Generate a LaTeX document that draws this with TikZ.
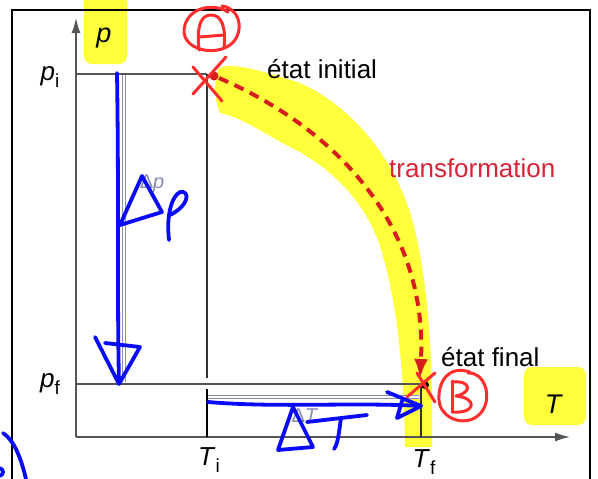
\documentclass[tikz,border=0pt]{standalone}
\usepackage{fontspec}
\setmainfont{Liberation Sans}
\usetikzlibrary{arrows.meta}
\definecolor{hlyellow}{RGB}{255,255,60}
\definecolor{penblue}{RGB}{10,10,250}
\definecolor{penred}{RGB}{255,45,45}
\definecolor{curvered}{RGB}{215,30,30}
\definecolor{labelred}{RGB}{215,35,55}
\definecolor{arrowgray}{RGB}{135,140,180}
\definecolor{axisgray}{RGB}{85,85,85}
\newcommand{\lowidx}[1]{\raisebox{-0.3em}{\fontsize{19}{20}\selectfont #1}}

\begin{document}
\begin{tikzpicture}[x=1pt,y=-1pt]
\tikzset{
  lbl/.style={inner sep=0pt,font=\fontsize{26}{30}\selectfont},
  redlbl/.style={lbl,text=labelred},
  faintlbl/.style={inner sep=0pt,text=arrowgray,font=\fontsize{20}{22}\selectfont},
  axis/.style={draw=axisgray,line width=1.5pt,-{Latex[length=15pt,width=9pt]}},
  guide/.style={draw=axisgray,line width=1.2pt},
  tick/.style={draw=black,line width=2.6pt},
  hollow/.style={draw=arrowgray,line width=0.7pt,double=white,double distance=2pt},
  path/.style={draw=curvered,line width=4pt,dash pattern=on 10pt off 7pt,
    -{Latex[length=20pt,width=14pt]}},
  pen/.style={draw=penblue,line width=3.8pt,line cap=round,line join=round},
  redpen/.style={draw=penred,line width=3pt,line cap=round,line join=round}
}
\useasboundingbox (0,0) rectangle (598,479);
% highlighter
\fill[hlyellow,rounded corners=8pt] (84,-5) rectangle (127,64);
\fill[hlyellow,rounded corners=8pt] (524,367) rectangle (586,425);
\fill[hlyellow] (218,70) .. controls (224,60) and (260,70) .. (300,83)
  .. controls (350,105) and (400,160) .. (416,235)
  .. controls (428,290) and (433,350) .. (432,447) -- (405,447)
  .. controls (404,360) and (395,290) .. (378,240)
  .. controls (360,195) and (330,170) .. (300,152)
  .. controls (270,138) and (245,118) .. (220,113)
  .. controls (214,100) and (214,80) .. cycle;
% frame
\draw[line width=2.5pt] (12,485) -- (12,10) -- (590,10) -- (590,485);
% axes
\coordinate (O) at (76,437);
\coordinate (ytip) at (76,18);
\coordinate (xtip) at (570,437);
\draw[axis] (O) -- (ytip);
\draw[axis] (O) -- (xtip);
\coordinate (pi_ax) at (76,74);
\coordinate (pf_ax) at (76,384);
\coordinate (Ti_ax) at (207,437);
\coordinate (Tf_ax) at (421,437);
\coordinate (stA) at (207,74);
\coordinate (stB) at (421,384);
\coordinate (Ti_gap) at (207,378);
\coordinate (Ti_low) at (207,389);
\draw[guide] (pi_ax) -- (stA);
\draw[guide] (pf_ax) -- (stB);
\draw[guide,draw=black!80] (stA) -- (Ti_gap);
\draw[tick] (Ti_low) -- (Ti_ax);
\draw[guide,draw=black!80] (stB) -- (Tf_ax);
% printed delta arrows
\coordinate (dp_top) at (124,75);
\coordinate (dp_bot) at (124,382);
\coordinate (dT_l) at (208,397);
\coordinate (dT_r) at (419,397);
\draw[hollow] (dp_top) -- (dp_bot);
\draw[hollow] (dT_l) -- (dT_r);
\node[faintlbl] (lbl_dp) at (152,184) {Δ\textit{p}};
\node[faintlbl] (lbl_dT) at (305,416) {Δ\textit{T}};
% labels
\node[lbl,font=\fontsize{27}{30}\selectfont] (lbl_p) at (104,38) {\textit{p}};
\node[lbl,font=\fontsize{27}{30}\selectfont] (lbl_T) at (554,404) {\textit{T}};
\node[lbl] (lbl_pi) at (50,77) {\textit{p}\lowidx{i}};
\node[lbl] (lbl_pf) at (50,384) {\textit{p}\lowidx{f}};
\node[lbl] (lbl_Ti) at (209,460) {\textit{T}\lowidx{i}};
\node[lbl] (lbl_Tf) at (424,462) {\textit{T}\lowidx{f}};
\node[lbl,anchor=west] (lbl_init) at (267,69) {état initial};
\node[lbl,anchor=west] (lbl_final) at (441,357) {état final};
\node[redlbl,anchor=west] (lbl_trans) at (389,168) {transformation};
% transformation
\fill[curvered] (214,76) circle (4.5);
\fill[black] (425,385) circle (4);
\coordinate (tr_start) at (219,78);
\coordinate (tr_end) at (420,379);
\draw[path] (tr_start) .. controls (335,128) and (428,225) .. (tr_end);
% hand notes, blue
\draw[pen] (117,73) .. controls (119,200) and (117,300) .. (119,383);
\draw[pen] (105,343) -- (140,347) -- (119,384) -- (95,337);
\draw[pen] (142,176) -- (120,225) -- (162,212) -- cycle;
\draw[pen] (169,240) .. controls (166,215) and (172,196) .. (180,192)
  .. controls (190,190) and (190,205) .. (170,215);
\draw[pen] (208,402) .. controls (280,408) and (350,402) .. (421,406);
\draw[pen] (387,392) -- (421,406) -- (397,418) -- (402,401);
\draw[pen] (293,407) -- (278,450) -- (313,447) -- cycle;
\draw[pen] (307,422) -- (367,415);
\draw[pen] (341,418) .. controls (339,432) and (338,444) .. (334,449);
\draw[pen] (3,433) .. controls (14,440) and (21,458) .. (26,479);
\draw[pen] (0,468) .. controls (4,470) and (4,474) .. (0,476);
% hand notes, red
\draw[redpen] (193,67) -- (222,101);
\draw[redpen] (193,94) -- (226,57);
\draw[redpen] (199,50) .. controls (197,30) and (199,16) .. (210,15)
  .. controls (223,14) and (226,30) .. (224,48);
\draw[redpen] (200,37) -- (224,35);
\draw[redpen] (228,12) .. controls (212,2) and (186,8) .. (184,30)
  .. controls (183,52) and (222,58) .. (235,40)
  .. controls (244,26) and (238,8) .. (222,6);
\draw[redpen] (407,397) -- (435,373);
\draw[redpen] (417,373) -- (435,402);
\draw[redpen] (452,381) -- (452,412);
\draw[redpen] (452,382) .. controls (472,380) and (472,393) .. (456,396)
  .. controls (478,398) and (476,414) .. (452,412);
\draw[redpen] (470,372) .. controls (448,365) and (438,382) .. (439,400)
  .. controls (440,420) and (470,430) .. (483,410)
  .. controls (492,395) and (484,372) .. (468,373);
\end{tikzpicture}
\end{document}
